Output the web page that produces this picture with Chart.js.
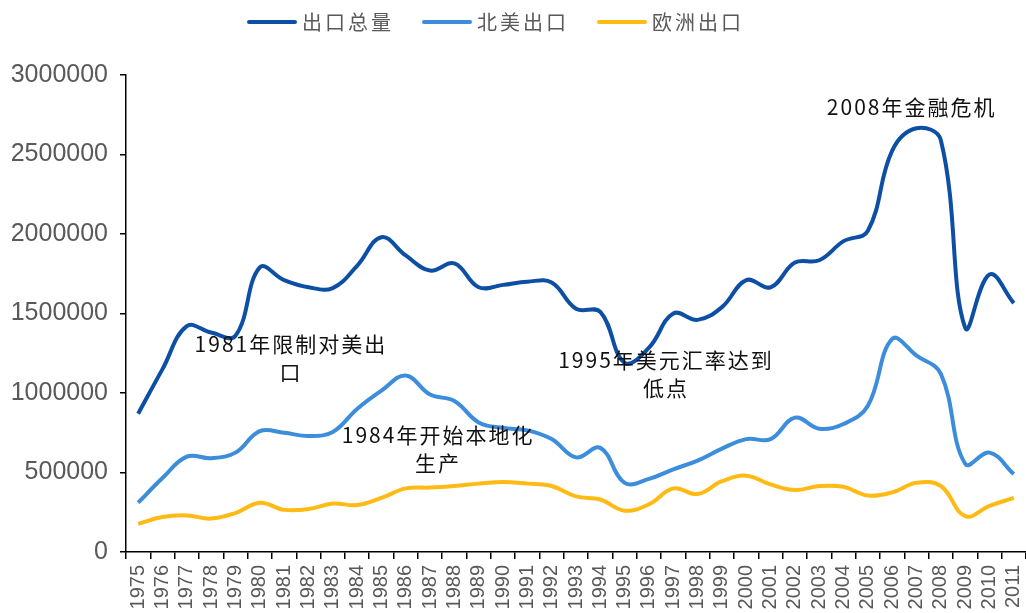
<!DOCTYPE html>
<html>
<head>
<meta charset="utf-8">
<script src="https://cdn.jsdelivr.net/npm/chart.js@4/dist/chart.umd.min.js"></script>
<style>
  html, body { margin: 0; padding: 0; background: #fff; }
  #wrap { width: 1026px; height: 613px; }
</style>
</head>
<body>
<div id="wrap"><canvas id="c"></canvas></div>
<script>
// years on the x axis
const years = [];
for (let y = 1975; y <= 2011; y++) years.push(String(y));

// series
const totalExports = [
  870000, 1150000, 1420000, 1380000, 1360000, 1790000, 1710000, 1665000, 1660000, 1800000,
  1980000, 1865000, 1770000, 1815000, 1665000, 1680000, 1700000, 1695000, 1530000, 1510000,
  1190000, 1285000, 1500000, 1460000, 1540000, 1710000, 1665000, 1820000, 1835000, 1955000,
  2020000, 2525000, 2665000, 2590000, 1410000, 1745000, 1565000
];
const naExports = [
  310000, 465000, 600000, 590000, 625000, 760000, 750000, 730000, 755000, 900000,
  1015000, 1110000, 990000, 950000, 815000, 780000, 765000, 710000, 595000, 655000,
  435000, 460000, 520000, 575000, 650000, 710000, 710000, 845000, 775000, 805000,
  920000, 1340000, 1235000, 1120000, 555000, 625000, 490000
];
const euExports = [
  177000, 220000, 230000, 210000, 245000, 310000, 265000, 270000, 305000, 295000,
  340000, 400000, 405000, 415000, 430000, 440000, 430000, 415000, 350000, 330000,
  260000, 300000, 400000, 365000, 445000, 480000, 425000, 390000, 415000, 410000,
  355000, 375000, 435000, 415000, 225000, 290000, 340000
];

const seriesNames = ["出口总量", "北美出口", "欧洲出口"];
const seriesColors = ["#0E4FA6", "#3C8DDB", "#FFBA14"];

// notes on the plot: [category index, value, text lines]
const notes = [
  [6.28, 1305000, ["1981年限制对美出", "口"]],
  [12.33, 737000, ["1984年开始本地化", "生产"]],
  [21.7, 1210000, ["1995年美元汇率达到", "低点"]],
  [31.8, 2798000, ["2008年金融危机"]]
];

const yTicks = [0, 500000, 1000000, 1500000, 2000000, 2500000, 3000000];

// draws the note texts using the chart scales
const notesPlugin = {
  id: "notes",
  afterDatasetsDraw(chart) {
    const ctx = chart.ctx;
    const xs = chart.scales.x, ys = chart.scales.y;
    ctx.save();
    ctx.font = '21px "Noto Sans CJK SC", sans-serif';
    ctx.fillStyle = "#111";
    ctx.textAlign = "center";
    ctx.textBaseline = "middle";
    ctx.letterSpacing = "2px";
    notes.forEach(([ix, val, lines]) => {
      const px = xs.getPixelForValue(ix);
      const py = ys.getPixelForValue(val);
      lines.forEach((t, i) => ctx.fillText(t, px, py + i * 28));
    });
    ctx.restore();
  }
};

// legend on top, drawn from the datasets
const legendPlugin = {
  id: "topLegend",
  afterDraw(chart) {
    const ctx = chart.ctx;
    ctx.save();
    ctx.font = '20px "Noto Sans CJK SC", sans-serif';
    ctx.letterSpacing = "3px";
    ctx.textBaseline = "middle";
    let x = 249;
    const y = 22;
    chart.data.datasets.forEach((ds) => {
      ctx.strokeStyle = ds.borderColor;
      ctx.lineWidth = 4;
      ctx.lineCap = "round";
      ctx.beginPath();
      ctx.moveTo(x, y);
      ctx.lineTo(x + 46, y);
      ctx.stroke();
      x += 53;
      ctx.fillStyle = "#595959";
      ctx.fillText(ds.label, x, y);
      x += ctx.measureText(ds.label).width + 30;
    });
    ctx.restore();
  }
};

new Chart(document.getElementById("c"), {
  type: "line",
  data: {
    labels: years,
    datasets: [totalExports, naExports, euExports].map((d, i) => ({
      label: seriesNames[i],
      data: d,
      borderColor: seriesColors[i],
      backgroundColor: seriesColors[i],
      borderWidth: 4,
      pointRadius: 0,
      tension: 0.4,
      fill: false
    }))
  },
  options: {
    responsive: true,
    maintainAspectRatio: false,
    animation: false,
    layout: { padding: { top: 75, right: 0, left: 0, bottom: 0 } },
    plugins: {
      legend: { display: false },
      tooltip: { enabled: false }
    },
    scales: {
      x: {
        offset: true,
        grid: { display: true, drawOnChartArea: false, offset: true, color: "#000", tickLength: 7, lineWidth: 1.5 },
        border: { display: true, color: "#000", width: 1.5 },
        ticks: {
          color: "#595959",
          font: { family: '"Liberation Sans", Arial, sans-serif', size: 20 },
          minRotation: 90,
          maxRotation: 90,
          autoSkip: false,
          padding: 6
        },
        afterFit(scale) {
          scale.height = 61;
          scale.paddingLeft = 0;
          scale.paddingRight = 0;
        }
      },
      y: {
        min: 0,
        max: 3000000,
        afterBuildTicks(scale) { scale.ticks = yTicks.map(v => ({ value: v })); },
        grid: { display: true, drawOnChartArea: false, color: "#000", tickLength: 6, lineWidth: 1.5 },
        border: { display: true, color: "#000", width: 1.5 },
        ticks: {
          color: "#595959",
          font: { family: '"Liberation Sans", Arial, sans-serif', size: 25 },
          padding: 12,
          callback: v => String(v)
        },
        afterFit(scale) { scale.width = 126; }
      }
    }
  },
  plugins: [notesPlugin, legendPlugin]
});
</script>
</body>
</html>
